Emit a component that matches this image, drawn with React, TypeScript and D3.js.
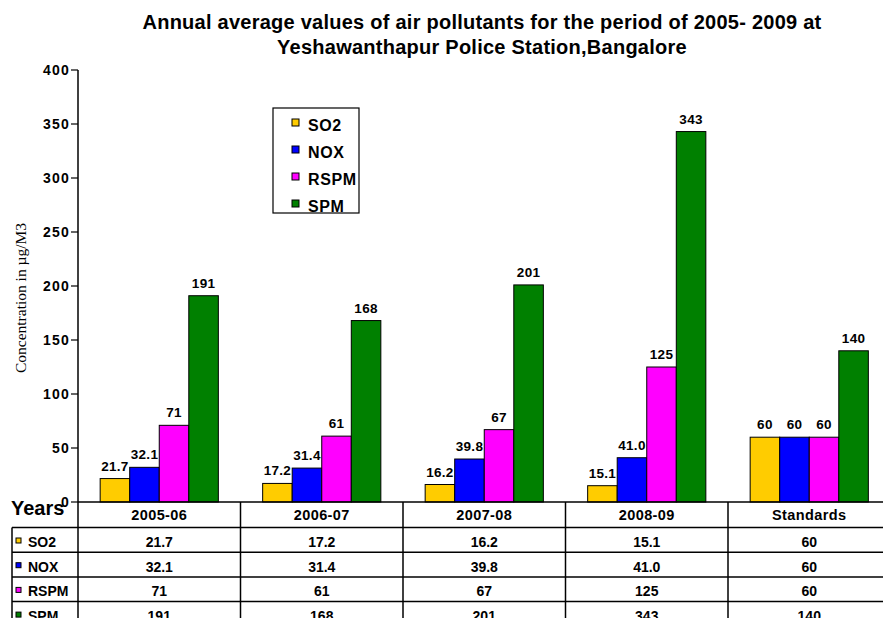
import React from 'react';
import * as d3 from 'd3';

const categories = ['2005-06', '2006-07', '2007-08', '2008-09', 'Standards'];
const seriesNames = ['SO2', 'NOX', 'RSPM', 'SPM'];
const so2 = [21.7, 17.2, 16.2, 15.1, 60];
const nox = [32.1, 31.4, 39.8, 41.0, 60];
const rspm = [71, 61, 67, 125, 60];
const spm = [191, 168, 201, 343, 140];
const seriesLabels = [
  ['21.7', '17.2', '16.2', '15.1', '60'],
  ['32.1', '31.4', '39.8', '41.0', '60'],
  ['71', '61', '67', '125', '60'],
  ['191', '168', '201', '343', '140'],
];
const colors = ['#FFCC00', '#0000FF', '#FF00FF', '#008000'];
const yTicks = [0, 50, 100, 150, 200, 250, 300, 350, 400];

const W = 883;
const H = 618;
const FONT = 'Liberation Sans, Arial, sans-serif';

const App = () => {
  const values = [so2, nox, rspm, spm];
  const left = 78;
  const colW = 162.5;

  const x = d3.scaleBand().domain(categories).range([left, left + colW * categories.length]);
  const xs = d3.scaleBand().domain(seriesNames).range([0, x.bandwidth()]).paddingOuter(0.75);
  const y = d3.scaleLinear().domain([0, 400]).range([502, 70]);

  const tableTop = y(0);
  const headerH = 25.5;
  const rowH = 24.7;

  return (
    <div style={{ position: 'absolute', left: 0, top: 0 }}>
      <svg width={W} height={H} style={{ display: 'block', background: '#fff' }} fontFamily={FONT}>
        {/* title */}
        <text x={482} y={29} textAnchor="middle" fontSize={20} fontWeight="bold" letterSpacing={0.25}>
          Annual average values of air pollutants for the period of 2005- 2009 at
        </text>
        <text x={482} y={54} textAnchor="middle" fontSize={20} fontWeight="bold" letterSpacing={0.25}>
          Yeshawanthapur Police Station,Bangalore
        </text>

        {/* y axis */}
        <line x1={left} x2={left} y1={y(400)} y2={y(0)} stroke="#000" strokeWidth={1.5} />
        {yTicks.map(t => (
          <g key={t}>
            <line x1={left - 7} x2={left} y1={y(t)} y2={y(t)} stroke="#000" strokeWidth={1.2} />
            <text x={left - 8} y={y(t) + 5} textAnchor="end" fontSize={14} fontWeight="bold" letterSpacing={1.2}>{t}</text>
          </g>
        ))}
        <text
          transform={`translate(26,298) rotate(-90)`}
          textAnchor="middle"
          fontSize={15.5}
          fontFamily="Liberation Serif, Times New Roman, serif"
        >
          Concentration in µg/M3
        </text>

        {/* bars */}
        {categories.map((c, ci) => (
          <g key={c}>
            {seriesNames.map((s, si) => {
              const bx = (x(c) as number) + (xs(s) as number);
              const v = values[si][ci];
              return (
                <g key={s}>
                  <rect
                    x={bx}
                    y={y(v)}
                    width={xs.bandwidth()}
                    height={y(0) - y(v)}
                    fill={colors[si]}
                    stroke="#000"
                    strokeWidth={1}
                  />
                  <text x={bx + xs.bandwidth() / 2} y={y(v) - 8} textAnchor="middle" fontSize={13.5} fontWeight="bold" letterSpacing={0.3}>
                    {seriesLabels[si][ci]}
                  </text>
                </g>
              );
            })}
          </g>
        ))}

        {/* data table */}
        <line x1={left} x2={W} y1={tableTop} y2={tableTop} stroke="#000" strokeWidth={1.5} />
        <line x1={12} x2={W} y1={tableTop + headerH} y2={tableTop + headerH} stroke="#000" strokeWidth={1.5} />
        {seriesNames.map((s, si) => (
          <line
            key={s}
            x1={12}
            x2={W}
            y1={tableTop + headerH + rowH * (si + 1)}
            y2={tableTop + headerH + rowH * (si + 1)}
            stroke="#000"
            strokeWidth={1.5}
          />
        ))}
        <line x1={12} x2={12} y1={tableTop + headerH} y2={H} stroke="#000" strokeWidth={1.5} />
        {categories.map(c => (
          <line key={c} x1={x(c)} x2={x(c)} y1={tableTop} y2={H} stroke="#000" strokeWidth={1.5} />
        ))}
        <text x={11} y={515} fontSize={20} fontWeight="bold">Years</text>
        {categories.map(c => (
          <text key={c} x={(x(c) as number) + colW / 2} y={tableTop + 18} textAnchor="middle" fontSize={14.5} fontWeight="bold" letterSpacing={0.4}>
            {c}
          </text>
        ))}
        {seriesNames.map((s, si) => {
          const ry = tableTop + headerH + rowH * si;
          return (
            <g key={s}>
              <rect x={16} y={ry + 10.5} width={5} height={5} fill={colors[si]} stroke="#000" strokeWidth={1} />
              <text x={28} y={ry + 19.5} fontSize={14} fontWeight="bold">{s}</text>
              {categories.map((c, ci) => (
                <text key={c} x={(x(c) as number) + colW / 2} y={ry + 19.5} textAnchor="middle" fontSize={14} fontWeight="bold">
                  {seriesLabels[si][ci]}
                </text>
              ))}
            </g>
          );
        })}

        {/* legend */}
        <rect x={273} y={108} width={86} height={105} fill="#fff" stroke="#000" strokeWidth={1.2} />
        {seriesNames.map((s, si) => (
          <g key={s}>
            <rect x={292} y={119 + si * 27} width={7} height={7} fill={colors[si]} stroke="#000" strokeWidth={1} />
            <text x={308} y={131 + si * 27} fontSize={16} fontWeight="bold" letterSpacing={0.6}>{s}</text>
          </g>
        ))}
      </svg>
    </div>
  );
};

export default App;
